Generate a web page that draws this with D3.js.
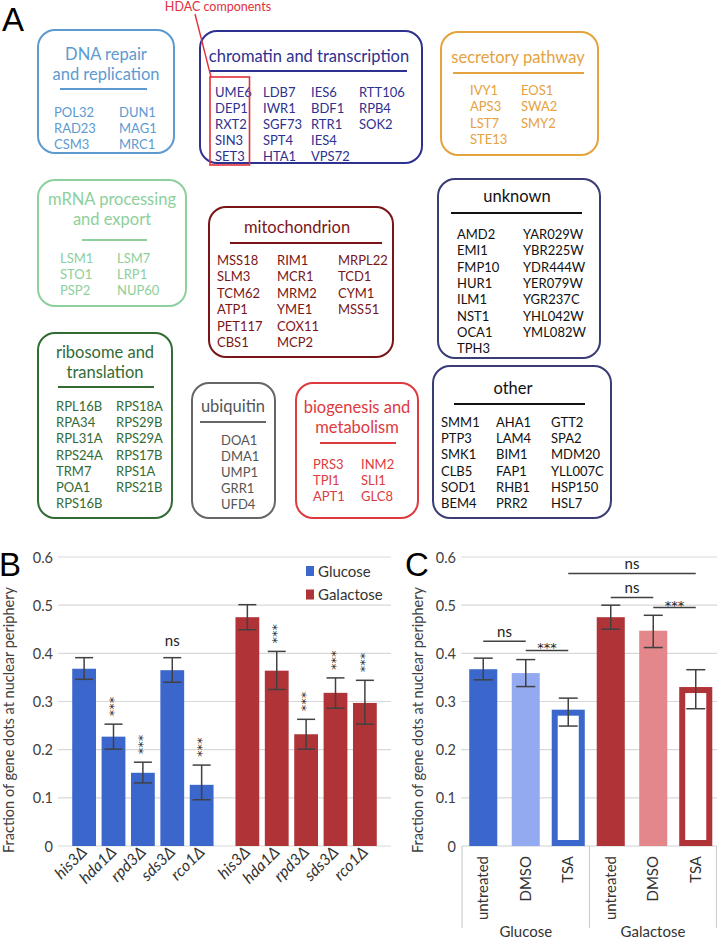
<!DOCTYPE html>
<html><head><meta charset="utf-8">
<script src="https://cdn.jsdelivr.net/npm/d3@7"></script>
<style>html,body{margin:0;padding:0;background:#fff;overflow:hidden}</style>
</head><body>
<svg id="fig" width="717" height="939"></svg>
<script>
// ---------------- DATA ----------------
// Panel A: gene categories (titles split in lines) and gene columns
const catTitles = {
  dna: ["DNA repair", "and replication"],
  chromatin: ["chromatin and transcription"],
  secretory: ["secretory pathway"],
  mrna: ["mRNA processing", "and export"],
  mito: ["mitochondrion"],
  unknown: ["unknown"],
  ribosome: ["ribosome and", "translation"],
  ubiquitin: ["ubiquitin"],
  biogenesis: ["biogenesis and", "metabolism"],
  other: ["other"]
};
const dnaGenes = [["POL32","RAD23","CSM3"],["DUN1","MAG1","MRC1"]];
const chromatinGenes = [["UME6","DEP1","RXT2","SIN3","SET3"],["LDB7","IWR1","SGF73","SPT4","HTA1"],["IES6","BDF1","RTR1","IES4","VPS72"],["RTT106","RPB4","SOK2"]];
const secretoryGenes = [["IVY1","APS3","LST7","STE13"],["EOS1","SWA2","SMY2"]];
const mrnaGenes = [["LSM1","STO1","PSP2"],["LSM7","LRP1","NUP60"]];
const mitoGenes = [["MSS18","SLM3","TCM62","ATP1","PET117","CBS1"],["RIM1","MCR1","MRM2","YME1","COX11","MCP2"],["MRPL22","TCD1","CYM1","MSS51"]];
const unknownGenes = [["AMD2","EMI1","FMP10","HUR1","ILM1","NST1","OCA1","TPH3"],["YAR029W","YBR225W","YDR444W","YER079W","YGR237C","YHL042W","YML082W"]];
const ribosomeGenes = [["RPL16B","RPA34","RPL31A","RPS24A","TRM7","POA1","RPS16B"],["RPS18A","RPS29B","RPS29A","RPS17B","RPS1A","RPS21B"]];
const ubiquitinGenes = [["DOA1","DMA1","UMP1","GRR1","UFD4"]];
const biogenesisGenes = [["PRS3","TPI1","APT1"],["INM2","SLI1","GLC8"]];
const otherGenes = [["SMM1","PTP3","SMK1","CLB5","SOD1","BEM4"],["AHA1","LAM4","BIM1","FAP1","RHB1","PRR2"],["GTT2","SPA2","MDM20","YLL007C","HSP150","HSL7"]];
const hdacLabel = "HDAC components";

// Panel B
const strains = ["his3Δ","hda1Δ","rpd3Δ","sds3Δ","rco1Δ"];
const media = ["Glucose","Galactose"];
const glucoseMean = [0.368, 0.227, 0.152, 0.365, 0.127];
const glucoseErrHi = [0.391, 0.253, 0.174, 0.391, 0.168];
const glucoseErrLo = [0.346, 0.201, 0.131, 0.340, 0.096];
const galactoseMean = [0.475, 0.364, 0.232, 0.318, 0.297];
const galactoseErrHi = [0.501, 0.404, 0.263, 0.349, 0.344];
const galactoseErrLo = [0.449, 0.325, 0.201, 0.286, 0.253];
const glucoseSig = ["", "***", "***", "ns", "***"];
const galactoseSig = ["", "***", "***", "***", "***"];
const yTicks = [0, 0.1, 0.2, 0.3, 0.4, 0.5, 0.6];
const yTitle = "Fraction of gene dots at nuclear periphery";

// Panel C
const treatments = ["untreated","DMSO","TSA"];
const cGlucoseMean = [0.367, 0.359, 0.283];
const cGlucoseErrHi = [0.390, 0.387, 0.307];
const cGlucoseErrLo = [0.345, 0.331, 0.249];
const cGalactoseMean = [0.475, 0.447, 0.330];
const cGalactoseErrHi = [0.500, 0.479, 0.366];
const cGalactoseErrLo = [0.450, 0.412, 0.285];
const cComparisons = [
  {a: 0, b: 1, label: "ns",  level: 0.425},
  {a: 1, b: 2, label: "***", level: 0.406},
  {a: 3, b: 4, label: "ns",  level: 0.516},
  {a: 4, b: 5, label: "***", level: 0.495},
  {a: 2, b: 5, label: "ns",  level: 0.566}
];

// ---------------- LAYOUT / STYLE ----------------
const FONT_A = "Lato, 'Open Sans', sans-serif";
const FONT_BC = "Lato, 'Open Sans', sans-serif";
const FONT_STAR = "'DejaVu Sans', sans-serif";
const boxLayout = [
  {key:"dna", genes:dnaGenes, x0:38,y0:30,x1:174,y1:153, cx:106, titleY:[60,80], lineY:89, lx0:60,lx1:147, colX:[54,119], rowY0:117, rowStep:15.8, stroke:"#5d9ad0", title:"#5d9ad0", text:"#5d9ad0"},
  {key:"chromatin", genes:chromatinGenes, x0:200,y0:31,x1:422,y1:163, cx:309, titleY:[62], lineY:71, lx0:210,lx1:407, colX:[215,263,311,359], rowY0:97, rowStep:16, stroke:"#2e3190", title:"#2e3190", text:"#2e3190"},
  {key:"secretory", genes:secretoryGenes, x0:441,y0:32,x1:598,y1:155, cx:518, titleY:[63], lineY:73, lx0:453,lx1:584, colX:[470,521], rowY0:95, rowStep:16.3, stroke:"#e5a23e", title:"#e5a23e", text:"#e5a23e"},
  {key:"mrna", genes:mrnaGenes, x0:38,y0:180,x1:186,y1:306, cx:112, titleY:[205,225], lineY:240, lx0:82,lx1:147, colX:[60,117], rowY0:263, rowStep:16, stroke:"#8dd09c", title:"#8dd09c", text:"#8dd09c"},
  {key:"mito", genes:mitoGenes, x0:209,y0:207,x1:393,y1:357, cx:297, titleY:[233], lineY:243, lx0:230,lx1:382, colX:[217,277,338], rowY0:265, rowStep:16.4, stroke:"#7a1517", title:"#7a1517", text:"#7a1517"},
  {key:"unknown", genes:unknownGenes, x0:438,y0:179,x1:600,y1:358, cx:517, titleY:[202], lineY:213, lx0:451,lx1:582, colX:[457,523], rowY0:239, rowStep:16.3, stroke:"#3a3d75", title:"#111", text:"#111", line:"#111"},
  {key:"ribosome", genes:ribosomeGenes, x0:38,y0:333,x1:172,y1:518, cx:105, titleY:[358,378], lineY:387, lx0:58,lx1:154, colX:[56,116], rowY0:411, rowStep:16.2, stroke:"#336b34", title:"#336b34", text:"#336b34"},
  {key:"ubiquitin", genes:ubiquitinGenes, x0:192,y0:383,x1:275,y1:518, cx:233, titleY:[412], lineY:422, lx0:200,lx1:266, colX:[221], rowY0:445, rowStep:16, stroke:"#666", title:"#555", text:"#555"},
  {key:"biogenesis", genes:biogenesisGenes, x0:296,y0:383,x1:418,y1:518, cx:357, titleY:[413,433], lineY:443, lx0:320,lx1:396, colX:[313,361], rowY0:469, rowStep:16, stroke:"#dd3b40", title:"#dd3b40", text:"#dd3b40"},
  {key:"other", genes:otherGenes, x0:433,y0:366,x1:611,y1:518, cx:513, titleY:[394], lineY:404, lx0:454,lx1:585, colX:[441,496,551], rowY0:427, rowStep:16.2, stroke:"#3a3d75", title:"#111", text:"#111", line:"#111"}
];

const svg = d3.select("#fig");

// ---------- Panel A ----------
const gA = svg.append("g");
gA.append("text").attr("x", 2).attr("y", 31).text("A")
  .attr("font-family","Arial, 'Liberation Sans', sans-serif").attr("font-size", 33).attr("fill","#000");

boxLayout.forEach(b => {
  const g = gA.append("g");
  g.append("rect").attr("x", b.x0).attr("y", b.y0).attr("width", b.x1-b.x0).attr("height", b.y1-b.y0)
    .attr("rx", 17).attr("ry", 17).attr("fill","none").attr("stroke", b.stroke).attr("stroke-width", 2);
  g.selectAll("text.title").data(catTitles[b.key]).join("text").attr("class","title")
    .attr("x", b.cx).attr("y", (d,i) => b.titleY[i]).attr("text-anchor","middle")
    .attr("font-family", FONT_A).attr("font-size", 16.5).attr("fill", b.title).text(d => d);
  g.append("line").attr("x1", b.lx0).attr("x2", b.lx1).attr("y1", b.lineY).attr("y2", b.lineY)
    .attr("stroke", b.line || b.stroke).attr("stroke-width", 2.2);
  b.genes.forEach((col, ci) => {
    g.selectAll("text.c"+ci).data(col).join("text").attr("class","c"+ci)
      .attr("x", b.colX[ci]).attr("y", (d,i) => b.rowY0 + i*b.rowStep)
      .attr("font-family", FONT_A).attr("font-size", 13).attr("fill", b.text).text(d => d);
  });
});
// HDAC annotation
gA.append("rect").attr("x", 210).attr("y", 77).attr("width", 39.5).attr("height", 88)
  .attr("fill","none").attr("stroke","#e0303a").attr("stroke-width",1.6);
gA.append("line").attr("x1",195).attr("y1",14).attr("x2",211).attr("y2",77)
  .attr("stroke","#e0303a").attr("stroke-width",1.4);
gA.append("text").attr("x", 218).attr("y", 11).attr("text-anchor","middle")
  .attr("font-family", FONT_A).attr("font-size", 12.5).attr("fill","#e0303a").text(hdacLabel);

// ---------- shared y scale ----------
const y = d3.scaleLinear().domain([0, 0.6]).range([846, 557]);

const blue = "#3b66cb", red = "#b03337", grid = "#d9d9d9", errCol = "#414141";

// ---------- Panel B ----------
const gB = svg.append("g");
const bx0 = 58, bx1 = 391;
gB.append("text").attr("x", -1).attr("y", 576).text("B")
  .attr("font-family","Arial, 'Liberation Sans', sans-serif").attr("font-size", 33).attr("fill","#000");
gB.selectAll("line.grid").data(yTicks).join("line").attr("class","grid")
  .attr("x1", bx0).attr("x2", bx1).attr("y1", d => y(d)).attr("y2", d => y(d))
  .attr("stroke", grid).attr("stroke-width", 1.2);
const yAxisB = d3.axisLeft(y).tickValues(yTicks).tickFormat(d => d === 0 ? "0" : d3.format(".1f")(d)).tickSize(0).tickPadding(0);
const yaB = gB.append("g").attr("transform", `translate(53,0)`).call(yAxisB);
yaB.select(".domain").remove();
yaB.selectAll("text").attr("font-family", FONT_BC).attr("font-size", 14.5).attr("fill","#404040").attr("dy","0.35em");
gB.append("text").attr("transform","translate(14,720) rotate(-90)").attr("text-anchor","middle")
  .attr("font-family", FONT_BC).attr("font-size", 14.5).attr("fill","#404040")
  .attr("textLength", 266).attr("lengthAdjust","spacingAndGlyphs").text(yTitle);

const groupX = d3.scaleBand().domain(media).range([bx0, bx1]).paddingInner(0.1).paddingOuter(0.07);
const strainX = d3.scaleBand().domain(strains).range([0, groupX.bandwidth()]).paddingInner(0.19).paddingOuter(0.095);
const bSeries = [
  {medium:"Glucose", mean: glucoseMean, hi: glucoseErrHi, lo: glucoseErrLo, sig: glucoseSig, color: blue},
  {medium:"Galactose", mean: galactoseMean, hi: galactoseErrHi, lo: galactoseErrLo, sig: galactoseSig, color: red}
];
bSeries.forEach(s => {
  const rows = strains.map((st, i) => ({st, v: s.mean[i], hi: s.hi[i], lo: s.lo[i], sig: s.sig[i]}));
  const g = gB.append("g").attr("transform", `translate(${groupX(s.medium)},0)`);
  g.selectAll("rect").data(rows).join("rect")
    .attr("x", d => strainX(d.st)).attr("width", strainX.bandwidth())
    .attr("y", d => y(d.v)).attr("height", d => y(0) - y(d.v)).attr("fill", s.color);
  const cx = d => strainX(d.st) + strainX.bandwidth()/2;
  g.selectAll("line.eb").data(rows).join("line").attr("class","eb")
    .attr("x1", cx).attr("x2", cx).attr("y1", d => y(d.hi)).attr("y2", d => y(d.lo))
    .attr("stroke", errCol).attr("stroke-width", 1.5);
  ["hi","lo"].forEach(k => {
    g.selectAll("line.cap"+k).data(rows).join("line").attr("class","cap"+k)
      .attr("x1", d => cx(d)-9).attr("x2", d => cx(d)+9).attr("y1", d => y(d[k])).attr("y2", d => y(d[k]))
      .attr("stroke", errCol).attr("stroke-width", 1.5);
  });
  // significance
  g.selectAll("text.star").data(rows.filter(d => d.sig === "***")).join("text").attr("class","star")
    .attr("transform", d => `translate(${cx(d)+4},${y(d.hi)-8}) rotate(-90)`)
    .attr("font-family", FONT_STAR).attr("font-size", 13).attr("fill","#222").text(d => d.sig);
  g.selectAll("text.ns").data(rows.filter(d => d.sig === "ns")).join("text").attr("class","ns")
    .attr("x", cx).attr("y", d => y(d.hi) - 12).attr("text-anchor","middle")
    .attr("font-family", FONT_BC).attr("font-size", 15).attr("fill","#222").text(d => d.sig);
  // x labels
  g.selectAll("text.xl").data(rows).join("text").attr("class","xl")
    .attr("transform", d => `translate(${cx(d)+4},${853}) rotate(-45)`).attr("text-anchor","end")
    .attr("font-family", FONT_BC).attr("font-style","italic").attr("font-size", 16).attr("fill","#333").text(d => d.st);
});
// legend
const legB = gB.append("g");
bSeries.forEach((s, i) => {
  legB.append("rect").attr("x", 306).attr("y", 566 + i*23.5).attr("width", 8).attr("height", 10).attr("fill", s.color);
  legB.append("text").attr("x", 318).attr("y", 576.5 + i*23.5).attr("font-family", FONT_BC).attr("font-size", 15)
    .attr("fill","#333").text(s.medium);
});

// ---------- Panel C ----------
const gC = svg.append("g");
const cx0 = 462, cx1 = 717;
gC.append("text").attr("x", 405).attr("y", 576).text("C")
  .attr("font-family","Arial, 'Liberation Sans', sans-serif").attr("font-size", 33).attr("fill","#000");
gC.selectAll("line.grid").data(yTicks.filter(d => d > 0)).join("line").attr("class","grid")
  .attr("x1", cx0-1).attr("x2", cx1).attr("y1", d => y(d)).attr("y2", d => y(d))
  .attr("stroke", grid).attr("stroke-width", 1.2);
const yaC = gC.append("g").attr("transform", `translate(456,0)`).call(yAxisB);
yaC.select(".domain").remove();
yaC.selectAll("text").attr("font-family", FONT_BC).attr("font-size", 14.5).attr("fill","#404040").attr("dy","0.35em");
gC.append("text").attr("transform","translate(423,720) rotate(-90)").attr("text-anchor","middle")
  .attr("font-family", FONT_BC).attr("font-size", 14.5).attr("fill","#404040")
  .attr("textLength", 266).attr("lengthAdjust","spacingAndGlyphs").text(yTitle);

const cRows = [];
media.forEach((m, gi) => {
  const mean = gi === 0 ? cGlucoseMean : cGalactoseMean;
  const hi = gi === 0 ? cGlucoseErrHi : cGalactoseErrHi;
  const lo = gi === 0 ? cGlucoseErrLo : cGalactoseErrLo;
  treatments.forEach((t, i) => cRows.push({id: m + "|" + t, medium: m, t, v: mean[i], hi: hi[i], lo: lo[i]}));
});
const cX = d3.scaleBand().domain(cRows.map(d => d.id)).range([cx0, cx1]).paddingInner(0.34).paddingOuter(0.17);
const cFill = {"Glucose": {untreated: blue, DMSO: "#93aaf1", TSA: blue}, "Galactose": {untreated: red, DMSO: "#e3878b", TSA: red}};
const ccx = d => cX(d.id) + cX.bandwidth()/2;
// axis baseline & separators
gC.append("line").attr("x1", cx0).attr("x2", cx1).attr("y1", y(0)).attr("y2", y(0)).attr("stroke", "#cfcfcf").attr("stroke-width", 1.2);
const sepX = [cx0, (cX(cRows[2].id) + cX.bandwidth() + cX(cRows[3].id)) / 2, cx1 - 0.5];
gC.selectAll("line.sep").data(sepX).join("line").attr("class","sep")
  .attr("x1", d => d).attr("x2", d => d).attr("y1", y(0)).attr("y2", 928).attr("stroke","#cfcfcf").attr("stroke-width",1.2);

gC.selectAll("rect.bar").data(cRows.filter(d => d.t !== "TSA")).join("rect").attr("class","bar")
  .attr("x", d => cX(d.id)).attr("width", cX.bandwidth()).attr("y", d => y(d.v)).attr("height", d => y(0) - y(d.v))
  .attr("fill", d => cFill[d.medium][d.t]);
gC.selectAll("rect.hollow").data(cRows.filter(d => d.t === "TSA")).join("rect").attr("class","hollow")
  .attr("x", d => cX(d.id) + 0.5).attr("width", cX.bandwidth() - 1).attr("y", d => y(d.v) + 3).attr("height", d => y(0) - y(d.v) - 6)
  .attr("fill", "#fff").attr("stroke", d => cFill[d.medium][d.t]).attr("stroke-width", 6);
gC.selectAll("line.eb").data(cRows).join("line").attr("class","eb")
  .attr("x1", ccx).attr("x2", ccx).attr("y1", d => y(d.hi)).attr("y2", d => y(d.lo))
  .attr("stroke", errCol).attr("stroke-width", 1.5);
["hi","lo"].forEach(k => {
  gC.selectAll("line.cap"+k).data(cRows).join("line").attr("class","cap"+k)
    .attr("x1", d => ccx(d)-9.5).attr("x2", d => ccx(d)+9.5).attr("y1", d => y(d[k])).attr("y2", d => y(d[k]))
    .attr("stroke", errCol).attr("stroke-width", 1.5);
});
// comparisons
cComparisons.forEach(c => {
  const xa = ccx(cRows[c.a]), xb = ccx(cRows[c.b]);
  gC.append("line").attr("x1", xa).attr("x2", xb).attr("y1", y(c.level)).attr("y2", y(c.level))
    .attr("stroke", errCol).attr("stroke-width", 1.5);
  const isNs = c.label === "ns";
  gC.append("text").attr("x", (xa+xb)/2).attr("y", isNs ? y(c.level) - 4 : y(c.level) + 2)
    .attr("text-anchor","middle").attr("font-family", isNs ? FONT_BC : FONT_STAR).attr("font-size", isNs ? 15 : 13)
    .attr("fill","#222").text(c.label);
});
// category labels
gC.selectAll("text.tl").data(cRows).join("text").attr("class","tl")
  .attr("transform", d => `translate(${ccx(d)+5},856) rotate(-90)`).attr("text-anchor","end")
  .attr("font-family", FONT_BC).attr("font-size", 15).attr("fill","#333").text(d => d.t);
gC.selectAll("text.ml").data(media).join("text").attr("class","ml")
  .attr("x", (d, i) => (sepX[i] + sepX[i+1]) / 2).attr("y", 937)
  .attr("text-anchor","middle").attr("font-family", FONT_BC).attr("font-size", 15).attr("fill","#333").text(d => d);
</script>
</body></html>
